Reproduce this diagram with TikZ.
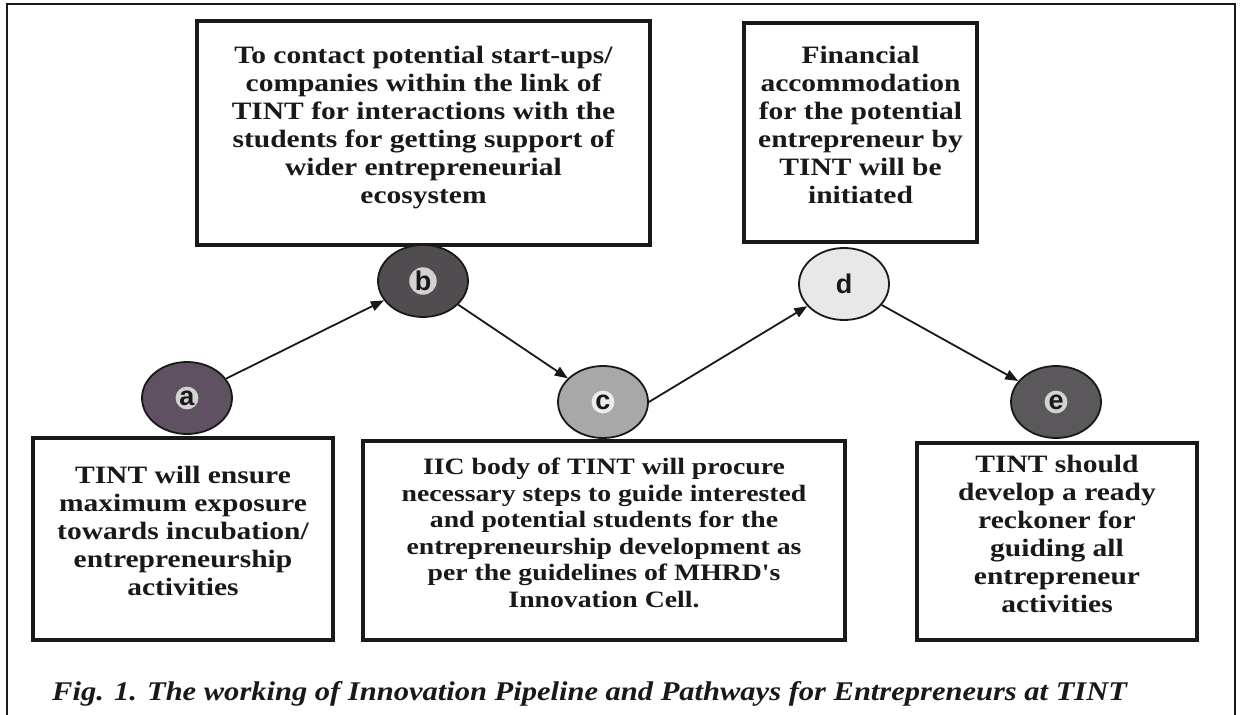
\documentclass[tikz,border=0pt]{standalone}
\usepackage{fontspec}
\setmainfont{Liberation Serif}
\newfontfamily\boxfont{Liberation Serif}[FakeStretch=1.18]
\newfontfamily\capfont{Liberation Serif}[FakeStretch=1.13]
\newfontfamily\lblfont{Liberation Sans}
\usetikzlibrary{arrows.meta,shapes.geometric}
\newcommand\xdepth{\rule[-16pt]{0pt}{0pt}}
\definecolor{cA}{RGB}{95,80,98}
\definecolor{cB}{RGB}{80,76,80}
\definecolor{cC}{RGB}{168,168,168}
\definecolor{cD}{RGB}{232,232,232}
\definecolor{cE}{RGB}{90,88,90}
\definecolor{ink}{RGB}{25,25,25}
\begin{document}
\begin{tikzpicture}[x=1pt,y=-1pt,
  textbox/.style={draw=ink, line width=4pt, inner sep=0pt, align=center,
    font=\boxfont\bfseries\fontsize{25}{28}\selectfont, text=ink},
  stage/.style={ellipse, draw=ink, line width=1.8pt, minimum width=90pt,
    minimum height=72pt, inner sep=0pt},
  halo/.style={circle, inner sep=0.6pt, text=ink,
    font=\lblfont\bfseries\fontsize{27}{27}\selectfont},
  flow/.style={draw=ink, line width=1.8pt, -{Triangle[length=13pt,width=10pt]}},
  frame/.style={draw=ink, line width=1.6pt}
]
\useasboundingbox (0,0) rectangle (1240,715);
\fill[white] (0,0) rectangle (1240,715);
\draw[frame] (7,4) rectangle (1235,740);

% text boxes
\node[textbox, minimum width=453pt, minimum height=224pt] (tb) at (423.5,133)
  {To contact potential start-ups/\\ companies within the link of\\ TINT for interactions with the\\ students for getting support of\\ wider entrepreneurial\\ ecosystem\xdepth};
\node[textbox, minimum width=233pt, minimum height=219pt] (td) at (860.5,132.5)
  {Financial\\ accommodation\\ for the potential\\ entrepreneur by\\ TINT will be\\ initiated\xdepth};
\node[textbox, minimum width=300pt, minimum height=202pt] (ta) at (183,539)
  {TINT will ensure\\ maximum exposure\\ towards incubation/\\ entrepreneurship\\ activities\xdepth};
\node[textbox, minimum width=482pt, minimum height=199pt,
  font=\boxfont\bfseries\fontsize{23.5}{26.5}\selectfont] (tc) at (604,540.5)
  {IIC body of TINT will procure\\ necessary steps to guide interested\\ and potential students for the\\ entrepreneurship development as\\ per the guidelines of MHRD's\\ Innovation Cell.\xdepth};
\node[textbox, minimum width=280pt, minimum height=197pt] (te) at (1057,541.5)
  {TINT should\\ develop a ready\\ reckoner for\\ guiding all\\ entrepreneur\\ activities\xdepth};

% stages
\node[stage, fill=cA, label={[halo, fill=gray!35]center:a}] (a) at (187,398) {};
\node[stage, fill=cB, label={[halo, fill=gray!35]center:b}] (b) at (423,281) {};
\node[stage, fill=cC, label={[halo, fill=white!85!gray]center:c}] (c) at (603,402) {};
\node[stage, fill=cD, label={[halo]center:d}] (d) at (844,284) {};
\node[stage, fill=cE, label={[halo, fill=gray!35]center:e}] (e) at (1056,402) {};

% connectors
\draw[flow] (a) -- (b);
\draw[flow] (b) -- (c);
\draw[flow] (c.east) -- (d);
\draw[flow] (d) -- (e);

% caption
\node[anchor=base west, inner sep=0pt, text=ink,
  font=\capfont\bfseries\itshape\fontsize{27}{30}\selectfont] (cap) at (52,700)
  {Fig. 1. The working of Innovation Pipeline and Pathways for Entrepreneurs at TINT};
\end{tikzpicture}
\end{document}
